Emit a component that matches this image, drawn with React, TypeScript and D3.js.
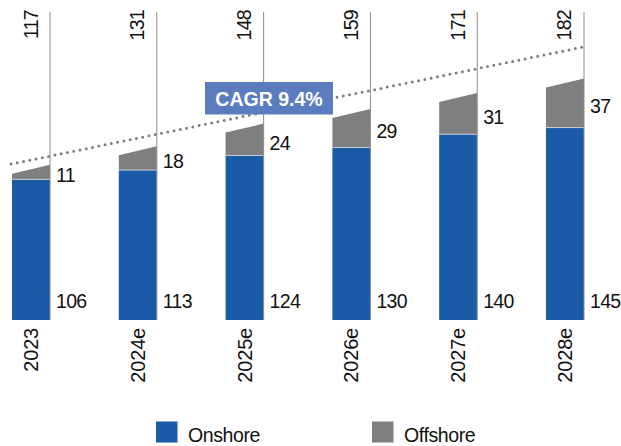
import React from "react";
import * as d3 from "d3";

const categories = ["2023", "2024e", "2025e", "2026e", "2027e", "2028e"];
const onshore = [106, 113, 124, 130, 140, 145];
const offshore = [11, 18, 24, 29, 31, 37];
const totals = [117, 131, 148, 159, 171, 182];
const cagrLabel = "CAGR 9.4%";
const trendValues = [117.5, 206];
const legendLabels = ["Onshore", "Offshore"];

const W = 621;
const H = 446;
const BLUE = "#1a5ba8";
const GRAY = "#7f7f7f";
const FONT = "'Liberation Sans', Arial, sans-serif";

export default function App() {
  const x = d3
    .scaleBand<string>()
    .domain(categories)
    .range([12, 584])
    .paddingInner(0.644)
    .paddingOuter(0)
    .align(0);
  const y = d3.scaleLinear().domain([0, 200]).range([320, 54.6]);
  const bw = x.bandwidth();
  const slant = 9;
  const fs = 19.5;
  const ls = -0.7;

  const first = x(categories[0])!;
  const last = x(categories[categories.length - 1])! + bw;
  const trend = d3
    .line<[number, number]>()
    .x((d) => d[0])
    .y((d) => d[1])([
    [first - 1, y(trendValues[0])],
    [last + 1, y(trendValues[1])],
  ]);

  return (
    <svg
      width={W}
      height={H}
      style={{ position: "absolute", left: 0, top: 0, background: "#fff" }}
      fontFamily={FONT}
    >
      {categories.map((c, i) => {
        const x0 = x(c)!;
        const x1 = x0 + bw;
        const yBlue = y(onshore[i]);
        const yTop = y(onshore[i] + offshore[i]);
        const gray = `M${x0},${yTop + slant}L${x1},${yTop}L${x1},${yBlue}L${x0},${yBlue}Z`;
        const midGray = (yTop + slant / 2 + yBlue) / 2;
        return (
          <g key={c}>
            <rect x={x0} y={yBlue} width={bw} height={y(0) - yBlue} fill={BLUE} />
            <path d={gray} fill={GRAY} />
            <line x1={x0} x2={x1} y1={yBlue} y2={yBlue} stroke="#c9ced6" strokeWidth={1} />
            <line x1={x1} x2={x1} y1={12} y2={y(0)} stroke="#8c8c8c" strokeWidth={1} />
            <text
              transform={`translate(${x0 + bw / 2 + 6.5},10) rotate(-90)`}
              textAnchor="end"
              fontSize={fs}
              letterSpacing={ls}
              fill="#111"
            >
              {totals[i]}
            </text>
            <text x={x1 + 6} y={midGray + 8} fontSize={fs} letterSpacing={ls} fill="#111">
              {offshore[i]}
            </text>
            <text x={x1 + 6} y={308} fontSize={fs} letterSpacing={ls} fill="#111">
              {onshore[i]}
            </text>
            <text
              transform={`translate(${x0 + bw / 2 + 7},328) rotate(-90)`}
              textAnchor="end"
              fontSize={20}
              letterSpacing={-0.2}
              fill="#111"
            >
              {c}
            </text>
          </g>
        );
      })}
      <path
        d={trend ?? ""}
        fill="none"
        stroke="#808080"
        strokeWidth={3}
        strokeLinecap="round"
        strokeDasharray="0 6.4"
      />
      <rect x={205} y={82} width={128} height={32.5} fill="#5b7dc0" />
      <text
        x={269}
        y={105.5}
        textAnchor="middle"
        fontSize={19.5}
        fontWeight="bold"
        fill="#fff"
      >
        {cagrLabel}
      </text>
      {legendLabels.map((l, i) => {
        const lx = i === 0 ? 156 : 372;
        return (
          <g key={l}>
            <rect x={lx} y={421.5} width={21.5} height={21} fill={i === 0 ? BLUE : GRAY} />
            <text x={lx + 32} y={442} fontSize={19.5} letterSpacing={-0.4} fill="#111">
              {l}
            </text>
          </g>
        );
      })}
    </svg>
  );
}
